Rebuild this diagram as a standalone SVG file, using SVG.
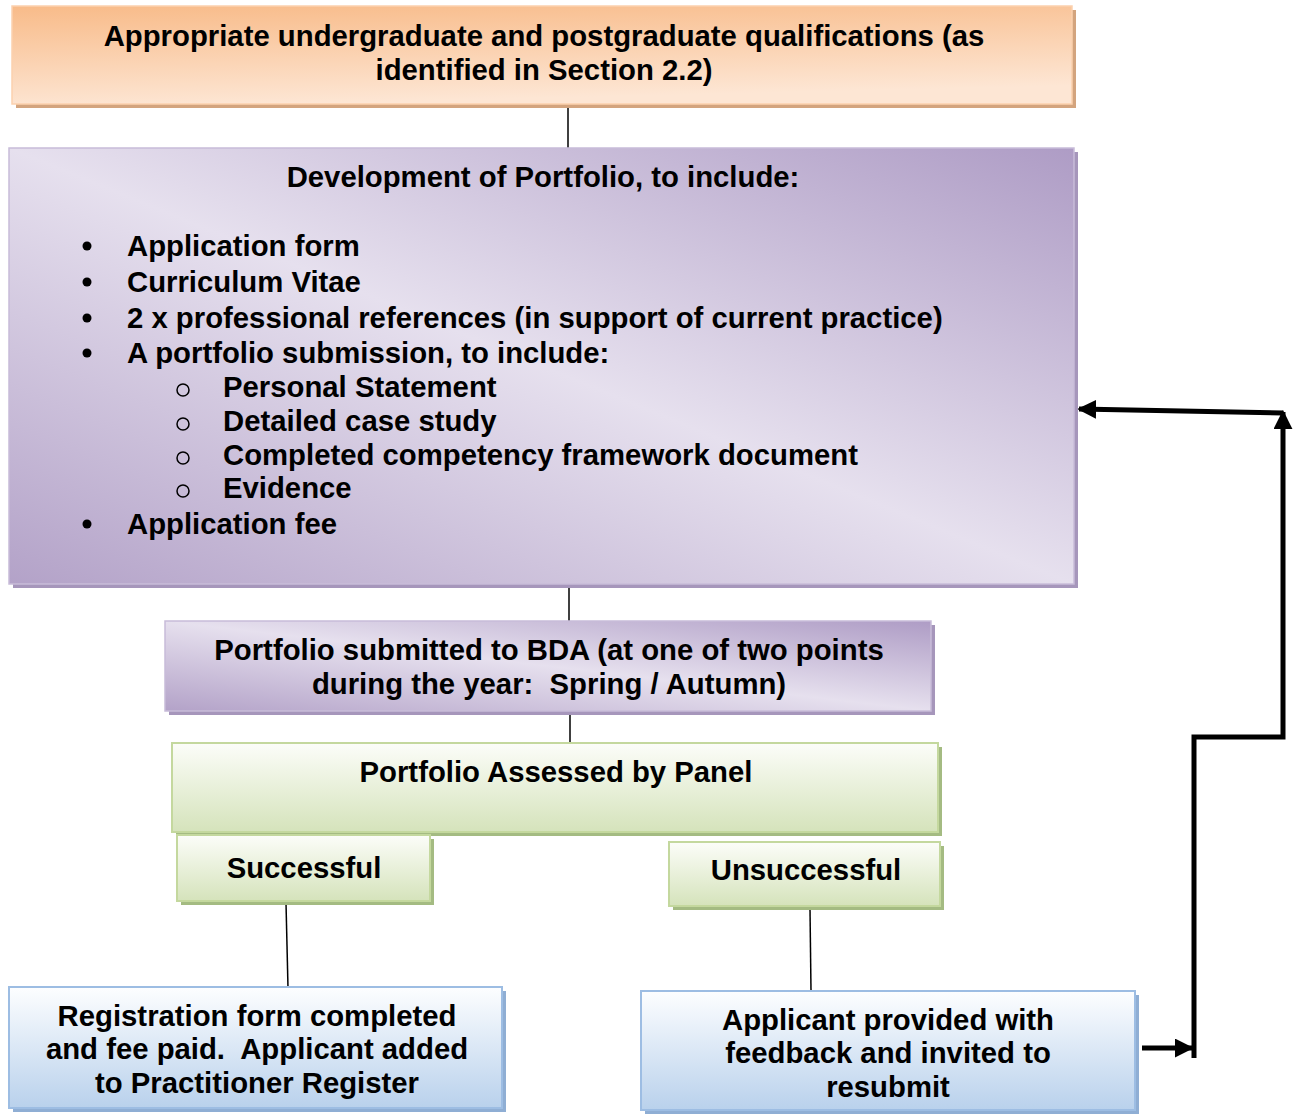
<svg xmlns="http://www.w3.org/2000/svg" width="1293" height="1114" viewBox="0 0 1293 1114">
<defs>
<linearGradient id="gOrange" x1="0" y1="0" x2="0.25" y2="1">
<stop offset="0" stop-color="#f8bb89"/>
<stop offset="1" stop-color="#fde6d4"/>
</linearGradient>
<linearGradient id="gPurple" x1="1" y1="0" x2="0" y2="1">
<stop offset="0" stop-color="#ae9cc5"/>
<stop offset="0.5" stop-color="#e6e0ee"/>
<stop offset="1" stop-color="#b3a2c8"/>
</linearGradient>
<linearGradient id="gGreen" x1="0" y1="0" x2="0" y2="1">
<stop offset="0" stop-color="#fcfdf9"/>
<stop offset="1" stop-color="#d5e3bb"/>
</linearGradient>
<linearGradient id="gBlue" x1="0" y1="0" x2="0" y2="1">
<stop offset="0" stop-color="#fdfeff"/>
<stop offset="1" stop-color="#b9d1ec"/>
</linearGradient>
<marker id="ah" viewBox="0 0 10 10" refX="9" refY="5" markerWidth="19" markerHeight="19" markerUnits="userSpaceOnUse" orient="auto">
<path d="M0,0 L10,5 L0,10 z" fill="#000"/>
</marker>
</defs>
<style>
text{font-family:"Liberation Sans",Arial,sans-serif;font-weight:bold;font-size:29.3px;fill:#000;white-space:pre}
.c{text-anchor:middle}
.thin{stroke:#000;stroke-width:1.5;fill:none}
.thick{stroke:#000;stroke-width:5;fill:none}
.shO{fill:#d3a47e}
.shP{fill:#a696bb}
.shG{fill:#a4bb82}
.shB{fill:#8faed4}
.o{fill:url(#gOrange);stroke:#fbd1ae;stroke-width:1.5}
.p{fill:url(#gPurple);stroke:#c8bcd9;stroke-width:1.5}
.g{fill:url(#gGreen);stroke:#c4d89e;stroke-width:2}
.b{fill:url(#gBlue);stroke:#9dbde3;stroke-width:2}
</style>
<g id="connectors">
<line class="thin" x1="568" y1="104" x2="568" y2="148"/>
<line class="thin" x1="569" y1="586" x2="569" y2="621"/>
<line class="thin" x1="570" y1="714" x2="570" y2="743"/>
<line class="thin" x1="286" y1="903" x2="288" y2="988"/>
<line class="thin" x1="810" y1="909" x2="811" y2="991"/>
<line class="thick" x1="1142" y1="1048" x2="1192" y2="1048" marker-end="url(#ah)"/>
<polyline class="thick" points="1194,1058 1194,737 1283,737 1283,412" marker-end="url(#ah)"/>
<line class="thick" x1="1283" y1="413" x2="1079" y2="409" marker-end="url(#ah)"/>
</g>
<g id="node-qualifications">
<rect class="shO" x="16" y="10" width="1060" height="98"/>
<rect class="o" x="12" y="6" width="1060" height="98"/>
<text class="c" x="544" y="46">Appropriate undergraduate and postgraduate qualifications (as</text>
<text class="c" x="544" y="80">identified in Section 2.2)</text>
</g>
<g id="node-portfolio">
<rect class="shP" x="13" y="152" width="1065" height="436"/>
<rect class="p" x="9" y="148" width="1065" height="436"/>
<text class="c" x="543" y="187">Development of Portfolio, to include:</text>
<circle cx="87" cy="246" r="4.5"/>
<text x="127" y="256">Application form</text>
<circle cx="87" cy="282" r="4.5"/>
<text x="127" y="292">Curriculum Vitae</text>
<circle cx="87" cy="318" r="4.5"/>
<text x="127" y="328">2 x professional references (in support of current practice)</text>
<circle cx="87" cy="353" r="4.5"/>
<text x="127" y="363">A portfolio submission, to include:</text>
<circle cx="183" cy="390" r="6" fill="none" stroke="#000" stroke-width="1.5"/>
<text x="223" y="397">Personal Statement</text>
<circle cx="183" cy="424" r="6" fill="none" stroke="#000" stroke-width="1.5"/>
<text x="223" y="431">Detailed case study</text>
<circle cx="183" cy="458" r="6" fill="none" stroke="#000" stroke-width="1.5"/>
<text x="223" y="465">Completed competency framework document</text>
<circle cx="183" cy="491" r="6" fill="none" stroke="#000" stroke-width="1.5"/>
<text x="223" y="498">Evidence</text>
<circle cx="87" cy="524" r="4.5"/>
<text x="127" y="534">Application fee</text>
</g>
<g id="node-submitted">
<rect class="shP" x="169" y="625" width="766" height="90"/>
<rect class="p" x="165" y="621" width="766" height="90"/>
<text class="c" x="549" y="660">Portfolio submitted to BDA (at one of two points</text>
<text class="c" x="549" y="694">during the year:  Spring / Autumn)</text>
</g>
<g id="node-assessed">
<rect class="shG" x="176" y="747" width="766" height="89"/>
<rect class="g" x="172" y="743" width="766" height="89"/>
<text class="c" x="556" y="782">Portfolio Assessed by Panel</text>
</g>
<g id="node-successful">
<rect class="shG" x="181" y="839" width="253" height="66"/>
<rect class="g" x="177" y="835" width="253" height="66"/>
<text class="c" x="304" y="878">Successful</text>
</g>
<g id="node-unsuccessful">
<rect class="shG" x="673" y="846" width="271" height="64"/>
<rect class="g" x="669" y="842" width="271" height="64"/>
<text class="c" x="806" y="880">Unsuccessful</text>
</g>
<g id="node-registered">
<rect class="shB" x="13" y="991" width="493" height="121"/>
<rect class="b" x="9" y="987" width="493" height="121"/>
<text class="c" x="257" y="1026">Registration form completed</text>
<text class="c" x="257" y="1059">and fee paid.  Applicant added</text>
<text class="c" x="257" y="1093">to Practitioner Register</text>
</g>
<g id="node-feedback">
<rect class="shB" x="645" y="995" width="494" height="119"/>
<rect class="b" x="641" y="991" width="494" height="119"/>
<text class="c" x="888" y="1030">Applicant provided with</text>
<text class="c" x="888" y="1063">feedback and invited to</text>
<text class="c" x="888" y="1097">resubmit</text>
</g>
</svg>
